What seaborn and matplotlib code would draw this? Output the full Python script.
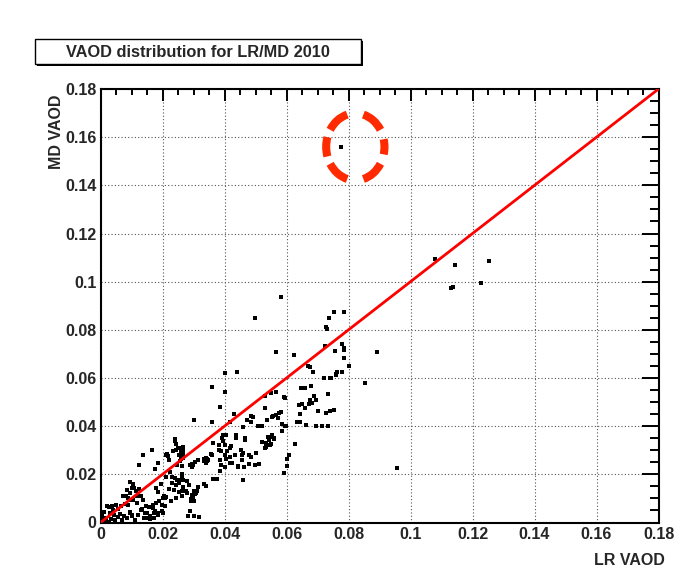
import matplotlib
matplotlib.use("Agg")
import matplotlib.pyplot as plt
import matplotlib.patches as mpatches
from matplotlib.ticker import MultipleLocator, FixedLocator, FixedFormatter
import pandas as pd
import seaborn as sns

# ---- data: LR VAOD (x) vs MD VAOD (y), one pair per station-day ----
lr_high = [0.0775, 0.0957, 0.1079, 0.1144, 0.1136, 0.1131, 0.1227, 0.1253, 0.0892, 0.0853, 0.0582, 0.0498,
           0.0752, 0.0786, 0.0736, 0.0727, 0.0732, 0.0778, 0.0784, 0.0786, 0.0758, 0.0725,
           0.0565, 0.0625, 0.0786, 0.0802, 0.0670, 0.0677, 0.0685, 0.0763, 0.0761, 0.0780,
           0.0722, 0.0741, 0.0744, 0.0759, 0.0648, 0.0661, 0.0680, 0.0567, 0.0550, 0.0530,
           0.0734, 0.0593, 0.0596, 0.0688, 0.0696, 0.0677, 0.0682, 0.0672, 0.0650, 0.0639,
           0.0659, 0.0702, 0.0740, 0.0752, 0.0532]
md_high = [0.1560, 0.0225, 0.1096, 0.1068, 0.0979, 0.0973, 0.0996, 0.1087, 0.0707, 0.0579, 0.0935, 0.0849,
           0.0875, 0.0875, 0.0849, 0.0810, 0.0804, 0.0743, 0.0726, 0.0718, 0.0713, 0.0733,
           0.0710, 0.0696, 0.0685, 0.0651, 0.0651, 0.0646, 0.0624, 0.0626, 0.0618, 0.0624,
           0.0599, 0.0599, 0.0599, 0.0611, 0.0557, 0.0557, 0.0568, 0.0543, 0.0538, 0.0525,
           0.0532, 0.0521, 0.0515, 0.0524, 0.0510, 0.0510, 0.0497, 0.0493, 0.0490, 0.0486,
           0.0474, 0.0465, 0.0465, 0.0467, 0.0474]

lr_mid = [0.0645, 0.0728, 0.0741, 0.0633, 0.0644, 0.0662, 0.0695, 0.0715, 0.0735, 0.0587,
          0.0594, 0.0597, 0.0586, 0.0536, 0.0554, 0.0556, 0.0566, 0.0575, 0.0582, 0.0574,
          0.0542, 0.0550, 0.0560, 0.0549, 0.0531, 0.0629, 0.0609, 0.0600, 0.0600, 0.0591,
          0.0402, 0.0440, 0.0359, 0.0401, 0.0385, 0.0430, 0.0301, 0.0359, 0.0417, 0.0474,
          0.0486, 0.0493, 0.0484, 0.0507, 0.0520, 0.0459, 0.0394, 0.0438, 0.0437, 0.0467,
          0.0467, 0.0406, 0.0392, 0.0396, 0.0381, 0.0403, 0.0382, 0.0389, 0.0409, 0.0417,
          0.0420, 0.0403, 0.0406, 0.0419, 0.0363, 0.0434, 0.0457, 0.0453, 0.0459, 0.0486,
          0.0501, 0.0520, 0.0533, 0.0533, 0.0547, 0.0552, 0.0559, 0.0539, 0.0423, 0.0442,
          0.0463, 0.0480, 0.0497, 0.0512, 0.0459, 0.0457, 0.0444, 0.0417, 0.0480]
md_mid = [0.0449, 0.0453, 0.0461, 0.0418, 0.0418, 0.0404, 0.0399, 0.0401, 0.0399, 0.0411,
          0.0400, 0.0400, 0.0382, 0.0425, 0.0439, 0.0442, 0.0446, 0.0453, 0.0460, 0.0432,
          0.0343, 0.0354, 0.0346, 0.0324, 0.0311, 0.0326, 0.0279, 0.0264, 0.0236, 0.0207,
          0.0620, 0.0624, 0.0564, 0.0540, 0.0480, 0.0450, 0.0425, 0.0416, 0.0416, 0.0425,
          0.0443, 0.0440, 0.0416, 0.0401, 0.0399, 0.0397, 0.0365, 0.0365, 0.0349, 0.0351,
          0.0341, 0.0362, 0.0349, 0.0338, 0.0321, 0.0321, 0.0301, 0.0296, 0.0296, 0.0310,
          0.0316, 0.0279, 0.0263, 0.0274, 0.0332, 0.0279, 0.0279, 0.0301, 0.0287, 0.0274,
          0.0287, 0.0335, 0.0329, 0.0313, 0.0321, 0.0363, 0.0351, 0.0357, 0.0246, 0.0229,
          0.0232, 0.0243, 0.0240, 0.0243, 0.0176, 0.0259, 0.0235, 0.0246, 0.0279]

lr_low = [0.0358, 0.0360, 0.0335, 0.0341, 0.0339, 0.0343, 0.0385, 0.0389, 0.0401, 0.0387,
          0.0364, 0.0375, 0.0299, 0.0288, 0.0314, 0.0263, 0.0259, 0.0267, 0.0280, 0.0267,
          0.0263, 0.0278, 0.0263, 0.0303, 0.0308, 0.0312, 0.0299, 0.0293, 0.0303, 0.0316,
          0.0335, 0.0339, 0.0290, 0.0282, 0.0318, 0.0303, 0.0337, 0.0345, 0.0340, 0.0348,
          0.0333, 0.0136, 0.0167, 0.0123, 0.0176, 0.0186, 0.0218, 0.0220, 0.0214, 0.0243,
          0.0252, 0.0266, 0.0258, 0.0241, 0.0243, 0.0249, 0.0239, 0.0252, 0.0233, 0.0212,
          0.0264, 0.0266, 0.0260, 0.0256, 0.0247, 0.0300, 0.0296, 0.0306, 0.0296, 0.0285,
          0.0296, 0.0304, 0.0291, 0.0275, 0.0247, 0.0264, 0.0237, 0.0243, 0.0252, 0.0220,
          0.0228, 0.0212, 0.0201, 0.0180, 0.0157, 0.0176, 0.0197, 0.0241, 0.0249, 0.0254,
          0.0231, 0.0245, 0.0266, 0.0264, 0.0262, 0.0266]
md_low = [0.0283, 0.0279, 0.0254, 0.0260, 0.0246, 0.0257, 0.0260, 0.0237, 0.0232, 0.0212,
          0.0179, 0.0179, 0.0240, 0.0240, 0.0260, 0.0201, 0.0296, 0.0315, 0.0171, 0.0149,
          0.0129, 0.0124, 0.0110, 0.0129, 0.0121, 0.0132, 0.0107, 0.0090, 0.0088, 0.0146,
          0.0159, 0.0151, 0.0049, 0.0029, 0.0024, 0.0029, 0.0262, 0.0265, 0.0268, 0.0260,
          0.0265, 0.0281, 0.0303, 0.0239, 0.0222, 0.0247, 0.0275, 0.0258, 0.0286, 0.0300,
          0.0308, 0.0297, 0.0281, 0.0345, 0.0326, 0.0310, 0.0338, 0.0282, 0.0296, 0.0282,
          0.0306, 0.0282, 0.0265, 0.0254, 0.0240, 0.0426, 0.0243, 0.0251, 0.0232, 0.0157,
          0.0113, 0.0118, 0.0096, 0.0129, 0.0176, 0.0182, 0.0135, 0.0101, 0.0126, 0.0140,
          0.0088, 0.0104, 0.0101, 0.0082, 0.0063, 0.0046, 0.0046, 0.0183, 0.0178, 0.0164,
          0.0164, 0.0155, 0.0178, 0.0197, 0.0233, 0.0267]

lr_origin = [0.0096, 0.0104, 0.0100, 0.0108, 0.0087, 0.0094, 0.0073, 0.0083, 0.0089, 0.0094,
             0.0079, 0.0089, 0.0075, 0.0113, 0.0123, 0.0119, 0.0106, 0.0117, 0.0132, 0.0136,
             0.0022, 0.0028, 0.0037, 0.0134, 0.0146, 0.0161, 0.0170, 0.0180, 0.0190, 0.0197,
             0.0172, 0.0186, 0.0143, 0.0096, 0.0102, 0.0146, 0.0159, 0.0172, 0.0201, 0.0207,
             0.0207, 0.0205, 0.0185, 0.0195, 0.0178, 0.0212, 0.0225, 0.0230,
             0.0005, 0.0012, 0.0018, 0.0026, 0.0008, 0.0015, 0.0035, 0.0042, 0.0048, 0.0055,
             0.0062, 0.0068, 0.0075, 0.0085, 0.0095, 0.0102, 0.0110, 0.0120, 0.0130, 0.0140,
             0.0150, 0.0160, 0.0170, 0.0185, 0.0040, 0.0030, 0.0002, 0.0010, 0.0058, 0.0065,
             0.0050]
md_origin = [0.0170, 0.0161, 0.0145, 0.0145, 0.0133, 0.0122, 0.0111, 0.0108, 0.0103, 0.0095,
             0.0078, 0.0072, 0.0108, 0.0130, 0.0139, 0.0111, 0.0095, 0.0081, 0.0108, 0.0095,
             0.0067, 0.0064, 0.0067, 0.0058, 0.0067, 0.0064, 0.0072, 0.0081, 0.0089, 0.0072,
             0.0039, 0.0039, 0.0039, 0.0045, 0.0031, 0.0020, 0.0025, 0.0020, 0.0039, 0.0067,
             0.0100, 0.0108, 0.0125, 0.0160, 0.0145, 0.0190, 0.0210, 0.0190,
             0.0028, 0.0020, 0.0011, 0.0004, 0.0008, 0.0004, 0.0015, 0.0030, 0.0012, 0.0022,
             0.0035, 0.0010, 0.0028, 0.0018, 0.0040, 0.0025, 0.0012, 0.0033, 0.0050, 0.0020,
             0.0038, 0.0015, 0.0060, 0.0030, 0.0050, 0.0040, 0.0010, 0.0045, 0.0055, 0.0068,
             0.0072]

# 1:1 reference line and axis ticks
one_to_one = [0.0, 0.18]
tick_values = [0.0, 0.02, 0.04, 0.06, 0.08, 0.10, 0.12, 0.14, 0.16, 0.18]
tick_labels = ["0", "0.02", "0.04", "0.06", "0.08", "0.1", "0.12", "0.14", "0.16", "0.18"]

title = "VAOD distribution for LR/MD 2010"
x_title = "LR VAOD"
y_title = "MD VAOD"

# highlighted outlier (ring centre)
ring_lr, ring_md = 0.0822, 0.1560

points = pd.concat(
    [pd.DataFrame({x_title: lr, y_title: md})
     for lr, md in [(lr_origin, md_origin), (lr_low, md_low), (lr_mid, md_mid), (lr_high, md_high)]],
    ignore_index=True,
)

sns.set_style("white")
plt.rcParams["font.family"] = ["Liberation Sans", "DejaVu Sans"]
plt.rcParams["font.weight"] = "bold"

W, H = 688, 568
fig = plt.figure(figsize=(W / 100, H / 100), dpi=100)
fig.patch.set_facecolor("white")
ax = fig.add_axes([100.5 / W, 1 - 522.5 / H, 558 / W, 433.5 / H])

ax.set_xlim(0, 0.18)
ax.set_ylim(0, 0.18)

# dotted grid at the major divisions
ax.grid(True, which="major", linestyle=(0, (1, 2)), color="#555555", linewidth=0.8)
ax.set_axisbelow(True)

sns.scatterplot(data=points, x=x_title, y=y_title, marker="s", s=5.5, color="black",
                linewidth=0, ax=ax, zorder=3, legend=False)
sns.lineplot(x=one_to_one, y=one_to_one, color="#ff0000", linewidth=2.0, ax=ax, zorder=4)

# dashed ring around the outlier
ring_w, ring_h = 0.0188, 0.0278
for centre, half in [(0, 19), (60, 19), (120, 19), (180, 24), (240, 19), (300, 19)]:
    ax.add_patch(mpatches.Arc((ring_lr, ring_md), ring_w, ring_h,
                              theta1=centre - half, theta2=centre + half,
                              color="#ff2a00", linewidth=5.8, zorder=5, clip_on=False))

# axes, ticks and labels
ax.xaxis.set_major_locator(FixedLocator(tick_values))
ax.xaxis.set_major_formatter(FixedFormatter(tick_labels))
ax.yaxis.set_major_locator(FixedLocator(tick_values))
ax.yaxis.set_major_formatter(FixedFormatter(tick_labels))
ax.xaxis.set_minor_locator(MultipleLocator(0.005))
ax.yaxis.set_minor_locator(MultipleLocator(0.005))
ax.tick_params(which="both", direction="in", top=True, right=True, width=1.4, color="black",
               labelsize=11.5)
ax.tick_params(axis="x", which="major", length=8.6, pad=3)
ax.tick_params(axis="x", which="minor", length=4.3)
ax.tick_params(axis="y", which="major", length=12.2, pad=3)
ax.tick_params(axis="y", which="minor", length=6.5)
for lab in ax.get_xticklabels() + ax.get_yticklabels():
    lab.set_fontweight("bold")
for sp in ax.spines.values():
    sp.set_linewidth(1.5)
    sp.set_color("black")
ax.set_xlabel("")
ax.set_ylabel("")

fig.text(665 / W, 1 - 565 / H, x_title, ha="right", va="baseline", fontsize=11.5,
         fontweight="bold")
fig.text(57 / W, 1 - 95 / H, y_title, ha="center", va="top", rotation=90, fontsize=11.5,
         fontweight="bold")

# title box with drop shadow
bx, by, bw, bh = 35, 39, 326, 25
fig.patches.append(mpatches.Rectangle(((bx + 2) / W, 1 - (by + bh + 2) / H), bw / W, bh / H,
                                      transform=fig.transFigure, facecolor="black",
                                      edgecolor="black", linewidth=0, zorder=1))
fig.patches.append(mpatches.Rectangle((bx / W, 1 - (by + bh) / H), bw / W, bh / H,
                                      transform=fig.transFigure, facecolor="white",
                                      edgecolor="black", linewidth=1.0, zorder=2))
fig.text((bx + bw / 2) / W, 1 - (by + 18) / H, title, ha="center", va="baseline",
         fontsize=11.8, fontweight="bold", zorder=3)

fig.savefig("out.png", dpi=100, facecolor="white")
